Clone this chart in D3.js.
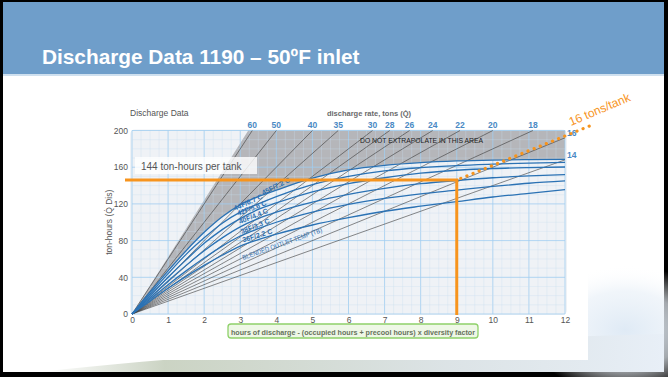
<!DOCTYPE html>
<html><head><meta charset="utf-8">
<script src="https://cdn.jsdelivr.net/npm/d3@7"></script>
<style>html,body{margin:0;padding:0;background:#fff;} svg{display:block;}</style>
</head><body>
<svg id="c" width="668" height="377"></svg>
<script>
// ---------------- data ----------------
const slideTitle = "Discharge Data 1190 – 50ºF inlet";
const chartTitle = "Discharge Data";
const rateAxisTitle = "discharge rate, tons (Q\u0307)";
const yAxisTitle = "ton-hours (Q\u0307 Dis)";
const xAxisTitle = "hours of discharge - (occupied hours + precool hours) x diversity factor";
const noGoText = "DO NOT EXTRAPOLATE IN THIS AREA";
const blendLabel = "BLENDED OUTLET TEMP (TB)";

const xTicks = [0,1,2,3,4,5,6,7,8,9,10,11,12];
const yTicks = [0,40,80,120,160,200];
const rateLines = [60,50,40,35,30,28,26,24,22,20,18,16,14];

const hours = [0,0.5,1,1.5,2,2.5,3,3.5,4,5,6,7,8,9,10,11,12];
const curveLabels = ["45F/7.2 C","44F/6.7 C","42F/5.6 C","40F/4.4 C","38F/3.3 C","36F/2.2 C"];
const tonHours45F = [0,24,47,69,89,106,119,128,135,148,157,162,165,166.8,167.8,168.3,168.6];
const tonHours44F = [0,22,44,65,83,99,111,120,128,141,150,156,159.5,161.8,163.3,164.5,165.3];
const tonHours42F = [0,20,40,59,77,92,104,114,121,133,142,148.5,153.5,156.7,158.6,159.6,160.2];
const tonHours40F = [0,18,36,53,69,83,95,104,111,122,130.5,137,142,145.5,148.5,150.5,152];
const tonHours38F = [0,16,32,47,61,74,85,93,100,111,119.5,126,131,135,139,142.5,145];
const tonHours36F = [0,14,28,41,53,64,74,81,87,97,105,112,117.5,122.5,127.5,131.5,135.5];
const curves = [tonHours45F,tonHours44F,tonHours42F,tonHours40F,tonHours38F,tonHours36F];

const markHours = 9;
const markTonHours = 146;
const markRate = 16;
const markEndHours = 12.75;
const markText = "144 ton-hours per tank";
const rateText = "16 tons/tank";

// ---------------- drawing ----------------
const svg = d3.select("#c");
const W = 668, H = 377;
svg.append("rect").attr("width",W).attr("height",H).attr("fill","#000");
svg.append("rect").attr("x",3).attr("y",2).attr("width",661).attr("height",370).attr("fill","#fff");

const defs = svg.append("defs");
const sw = defs.append("linearGradient").attr("id","sw").attr("x1",0).attr("x2",1).attr("y1",0).attr("y2",0);
sw.append("stop").attr("offset",0).attr("stop-color","#c3ccbb").attr("stop-opacity",0);
sw.append("stop").attr("offset",0.2).attr("stop-color","#c2ccb9").attr("stop-opacity",0.85);
sw.append("stop").attr("offset",0.65).attr("stop-color","#d8e0e3").attr("stop-opacity",0.9);
sw.append("stop").attr("offset",1).attr("stop-color","#e8eff7").attr("stop-opacity",1);
const glow = defs.append("radialGradient").attr("id","glow");
glow.append("stop").attr("offset",0).attr("stop-color","#dfeaf5");
glow.append("stop").attr("offset",0.6).attr("stop-color","#eaf1f8").attr("stop-opacity",0.7);
glow.append("stop").attr("offset",1).attr("stop-color","#ffffff").attr("stop-opacity",0);
svg.append("ellipse").attr("cx",625).attr("cy",330).attr("rx",95).attr("ry",65).attr("fill","url(#glow)");
svg.append("path").attr("d","M40,372 C200,354 420,340 664,334 L664,372 Z").attr("fill","url(#sw)");
// chart image white box
svg.append("rect").attr("x",100).attr("y",92).attr("width",488).attr("height",268).attr("fill","#fff");

// title bar
svg.append("rect").attr("x",3).attr("y",2).attr("width",661).attr("height",72).attr("fill","#6f9eca");
svg.append("rect").attr("x",3).attr("y",74).attr("width",661).attr("height",2).attr("fill","#cfe0ef");
svg.append("text").attr("x",42).attr("y",64).text(slideTitle)
  .attr("font-family","Liberation Sans, Arial, sans-serif").attr("font-weight","bold")
  .attr("font-size",20.8).attr("fill","#fff");

// scales
const x = d3.scaleLinear().domain([0,12]).range([132,565]);
const y = d3.scaleLinear().domain([0,200]).range([314,130.5]);
const F = "Liberation Sans, Arial, sans-serif";

// plot background
svg.append("rect").attr("x",x(0)-2).attr("y",y(200)-1).attr("width",x(12)-x(0)+4).attr("height",y(0)-y(200)+2)
  .attr("rx",5).attr("fill","#eff2f6");

// gray do-not-extrapolate area
const line = d3.line().x(d=>x(d[0])).y(d=>y(d[1])).curve(d3.curveMonotoneX);
const topPts = hours.map((h,i)=>[h,tonHours45F[i]]);
const grayPath = line(topPts) + `L${x(12)},${y(200)}L${x(200/rateLines[0])-4},${y(200)}Z`;
svg.append("path").attr("d",grayPath).attr("fill","#b5b6ba");

// grid
const grid = svg.append("g");
d3.range(0,12.0001,0.25).forEach(v=>{
  const major = Math.abs(v-Math.round(v))<1e-6;
  grid.append("line").attr("x1",x(v)).attr("x2",x(v)).attr("y1",y(0)).attr("y2",y(200))
    .attr("stroke",major?"rgba(160,205,240,0.8)":"rgba(200,220,240,0.55)").attr("stroke-width",major?1:0.6);
});
d3.range(0,200.0001,10).forEach(v=>{
  const major = v%40===0;
  grid.append("line").attr("x1",x(0)).attr("x2",x(12)).attr("y1",y(v)).attr("y2",y(v))
    .attr("stroke",major?"rgba(160,205,240,0.8)":"rgba(200,220,240,0.55)").attr("stroke-width",major?1:0.6);
});

// rate lines
rateLines.forEach(q=>{
  const hEnd = Math.min(12, 200/q);
  svg.append("line").attr("x1",x(0)).attr("y1",y(0)).attr("x2",x(hEnd)).attr("y2",y(q*hEnd))
    .attr("stroke","#3a3a3a").attr("stroke-width",0.6);
  if (200/q <= 12) {
    svg.append("text").attr("x",x(hEnd)).attr("y",y(200)-3).attr("text-anchor","middle")
      .attr("font-family",F).attr("font-weight","bold").attr("font-size",8.5).attr("fill","#4a89c4").text(q);
  } else {
    svg.append("text").attr("x",x(12)+2).attr("y",y(q*12)-1.5)
      .attr("font-family",F).attr("font-weight","bold").attr("font-size",8.5).attr("fill","#4a89c4").text(q);
  }
});

// blue curves
curves.forEach(c=>{
  svg.append("path").attr("d",line(hours.map((h,i)=>[h,c[i]])))
    .attr("fill","none").attr("stroke","#2b72b4").attr("stroke-width",1.3);
});

// curve labels
const labelPos = [[3.64,129.5,-26.7],[2.855,112.5,-24],[2.946,107,-20.5],[2.993,98,-21.8],[3.04,87.1,-21.8],[3.085,78.1,-17]];
curveLabels.forEach((t,i)=>{
  const p = labelPos[i];
  svg.append("text").attr("transform",`translate(${x(p[0])},${y(p[1])}) rotate(${p[2]})`)
    .attr("font-family",F).attr("font-weight","bold").attr("font-size",7).attr("fill","#2d6fb0").text(t);
});
svg.append("text").attr("transform",`translate(${x(3.085)},${y(58.9)}) rotate(-19.5)`)
  .attr("font-family",F).attr("font-size",6.8).attr("fill","#2d6fb0")
  .attr("textLength",84).attr("lengthAdjust","spacingAndGlyphs").text(blendLabel);

svg.append("text").attr("x",360).attr("y",143).attr("font-family",F).attr("font-size",7)
  .attr("fill","#1a1a1a").attr("textLength",123).attr("lengthAdjust","spacingAndGlyphs").text(noGoText);

// axes
const xa = svg.append("g").attr("transform",`translate(0,${y(0)})`)
  .call(d3.axisBottom(x).tickValues(xTicks).tickSize(0).tickPadding(3).tickFormat(d3.format("d")));
const ya = svg.append("g").attr("transform",`translate(${x(0)},0)`)
  .call(d3.axisLeft(y).tickValues(yTicks).tickSize(0).tickPadding(4));
[xa,ya].forEach(a=>{
  a.select(".domain").remove();
  a.selectAll("text").attr("font-family",F).attr("font-size",8.5).attr("fill","#555");
});

svg.append("text").attr("transform",`translate(112,${(y(0)+y(200))/2}) rotate(-90)`).attr("text-anchor","middle")
  .attr("font-family",F).attr("font-size",8.5).attr("fill","#555").text(yAxisTitle);
svg.append("text").attr("x",130).attr("y",116).attr("font-family",F).attr("font-size",8.5).attr("fill","#555").text(chartTitle);
svg.append("text").attr("x",369).attr("y",116).attr("text-anchor","middle").attr("font-family",F).attr("font-weight","bold")
  .attr("font-size",7.5).attr("fill","#6a6a6a").text(rateAxisTitle);

// x title box
svg.append("rect").attr("x",228).attr("y",324).attr("width",250).attr("height",14).attr("rx",3)
  .attr("fill","#eef7e6").attr("stroke","#8fd16a").attr("stroke-width",1.3);
svg.append("text").attr("x",353).attr("y",334.5).attr("text-anchor","middle").attr("font-family",F).attr("font-weight","bold")
  .attr("font-size",8).attr("fill","#66725c").attr("textLength",244).attr("lengthAdjust","spacingAndGlyphs").text(xAxisTitle);

// orange annotation
const OR = "#f7941d";
svg.append("rect").attr("x",135).attr("y",157).attr("width",122).attr("height",17).attr("fill","rgba(255,255,255,0.8)");
svg.append("text").attr("x",141).attr("y",169.5).attr("font-family",F).attr("font-size",10).attr("fill","#555").text(markText);
svg.append("line").attr("x1",125).attr("x2",x(markHours)+1.5).attr("y1",y(markTonHours)).attr("y2",y(markTonHours))
  .attr("stroke",OR).attr("stroke-width",3);
svg.append("line").attr("x1",x(markHours)).attr("x2",x(markHours)).attr("y1",y(markTonHours)).attr("y2",y(0)+1)
  .attr("stroke",OR).attr("stroke-width",3);
svg.append("line").attr("x1",x(markHours)+4).attr("y1",y(markTonHours+markRate*(4/36.08)))
  .attr("x2",x(markEndHours)).attr("y2",y(markTonHours+markRate*(markEndHours-markHours)))
  .attr("stroke",OR).attr("stroke-width",3.2).attr("stroke-linecap","round").attr("stroke-dasharray","0.1,6.5");
svg.append("text").attr("transform","translate(571,126) rotate(-23)").attr("font-family",F).attr("font-size",12)
  .attr("fill",OR).text(rateText);
</script>
</body></html>
